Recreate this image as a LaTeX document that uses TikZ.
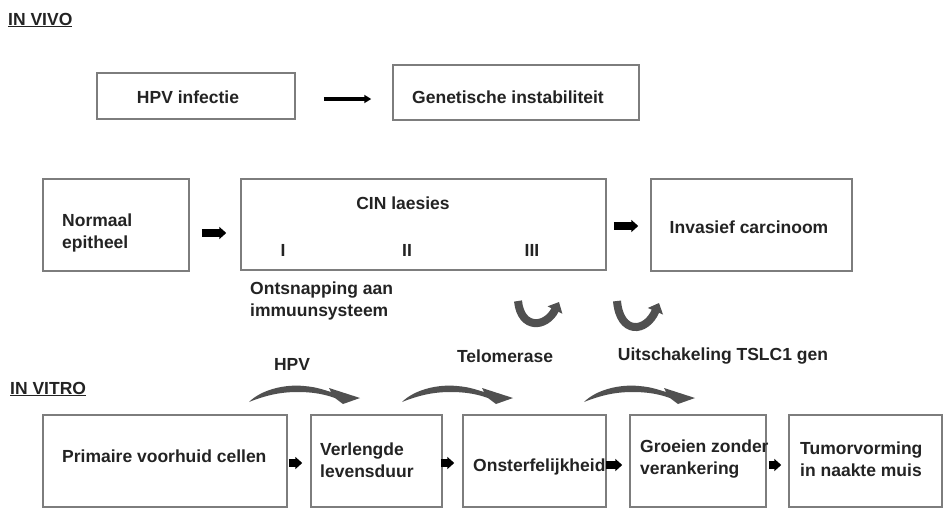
\documentclass[tikz,border=0pt]{standalone}
\usepackage{fontspec}
\setmainfont{Liberation Sans}
\usetikzlibrary{arrows.meta}
\definecolor{boxgray}{RGB}{125,125,125}
\definecolor{txtc}{RGB}{35,35,35}
\definecolor{bendgray}{RGB}{80,80,80}
\begin{document}
\begin{tikzpicture}[x=1pt,y=-1pt,
  box/.style={draw=boxgray,line width=1.5pt,inner sep=0pt,fill=white},
  txt/.style={font=\fontsize{17.5}{22}\selectfont\bfseries,text=txtc,inner sep=0pt},
  blockarrow/.style={line width=7.5pt,draw=black,-{Triangle[length=7pt,width=12pt]}},
  thinarrow/.style={line width=3.5pt,draw=black,-{Triangle[length=7pt,width=8pt]}},
  uarrow/.style={line width=8pt,draw=bendgray,-{Triangle[length=9pt,width=16pt]}},
  bendarrow/.pic={\fill[bendgray] (0,0) .. controls (12,-12) and (35,-18) .. (55,-16)
      .. controls (68,-15) and (75,-12) .. (82,-10) -- (80,-14) -- (111,-4) -- (94,2) -- (86,-4)
      .. controls (72,-9) and (60,-10) .. (48,-10) .. controls (30,-10) and (15,-6) .. (0,0) -- cycle;}
]
\useasboundingbox (0,0) rectangle (943,509);

% ---------- IN VIVO ----------
\node[txt,anchor=base west] (invivo) at (8,25) {\underline{IN VIVO}};

\node[box,minimum width=198pt,minimum height=46pt] (hpv) at (196,96) {};
\node[txt,anchor=base] (hpvtxt) at (188,103) {HPV infectie};
\node[box,minimum width=246pt,minimum height=55pt] (gen) at (516,92.5) {};
\node[txt,anchor=base] (gentxt) at (508,103) {Genetische instabiliteit};
\draw[thinarrow] ([xshift=28pt,yshift=-3pt]hpv.east) -- ([xshift=-21pt,yshift=-6.5pt]gen.west);

\node[box,minimum width=146pt,minimum height=92pt] (norm) at (116,225) {};
\node[txt,align=left,anchor=west] (normtxt) at (62,232.5) {Normaal\\epitheel};

\node[box,minimum width=365pt,minimum height=91pt] (cin) at (423.5,224.5) {};
\node[txt,anchor=base] (cintxt) at (403,209) {CIN laesies};
\node[txt,anchor=base] (c1) at (283,256) {I};
\node[txt,anchor=base] (c2) at (407,256) {II};
\node[txt,anchor=base] (c3) at (532,256) {III};

\node[box,minimum width=201pt,minimum height=92pt] (inv) at (751.5,225) {};
\node[txt,anchor=base] (invtxt) at (749,233) {Invasief carcinoom};

\draw[blockarrow] ([xshift=12pt,yshift=-8pt]norm.east) -- ([xshift=-14pt,yshift=-8.5pt]cin.west);
\draw[blockarrow] ([xshift=7pt,yshift=-1.5pt]cin.east) -- ([xshift=-12pt,yshift=-1pt]inv.west);

\node[txt,align=left,anchor=west] (ontsn) at (250,300.5) {Ontsnapping aan\\immuunsysteem};

\coordinate (u1a) at (518,301);
\coordinate (u1b) at (559,302);
\coordinate (u2a) at (617,301);
\coordinate (u2b) at (659,303);
\draw[uarrow] (u1a) .. controls (521,330) and (546,328) .. (u1b);
\draw[uarrow] (u2a) .. controls (620,335) and (646,333) .. (u2b);

% ---------- IN VITRO ----------
\node[txt] (hpvlab) at (292,364) {HPV};
\node[txt] (telolab) at (505,356) {Telomerase};
\node[txt] (tslclab) at (723,356) {Uitschakeling TSLC1 gen};
\node[txt,anchor=base west] (invitro) at (10,394) {\underline{IN VITRO}};

\pic at (249,402) {bendarrow};
\pic at (402,402) {bendarrow};
\pic at (584,402) {bendarrow};

\node[box,minimum width=244pt,minimum height=92pt] (prim) at (165,461) {};
\node[txt,anchor=base west] (primtxt) at (62,462) {Primaire voorhuid cellen};
\node[box,minimum width=131pt,minimum height=92pt] (verl) at (376.5,461) {};
\node[txt,align=left,anchor=west] (verltxt) at (320,460) {Verlengde\\levensduur};
\node[box,minimum width=143pt,minimum height=92pt] (onst) at (534.5,461) {};
\node[box,minimum width=136pt,minimum height=92pt] (groei) at (698,461) {};
\node[box,minimum width=153pt,minimum height=92pt] (tumor) at (865.5,461) {};

\draw[blockarrow] ([xshift=1pt,yshift=-2pt]prim.east) -- ([xshift=-8pt,yshift=-2pt]verl.west);
\draw[blockarrow] ([xshift=-2pt,yshift=-2pt]verl.east) -- ([xshift=-8pt,yshift=-2pt]onst.west);
\draw[blockarrow] ([xshift=-1pt,yshift=-4pt]onst.east) -- ([xshift=-7pt,yshift=-4pt]groei.west);
\draw[blockarrow] ([xshift=2pt,yshift=-4pt]groei.east) -- ([xshift=-7pt,yshift=-4pt]tumor.west);

\node[txt,anchor=base west] (onsttxt) at (473,471) {Onsterfelijkheid};
\node[txt,align=left,anchor=west] (groeitxt) at (640,459.5) {Groeien zonder\\verankering};
\node[txt,align=left,anchor=west] (tumortxt) at (800,459.5) {Tumorvorming\\in naakte muis};
\end{tikzpicture}
\end{document}
